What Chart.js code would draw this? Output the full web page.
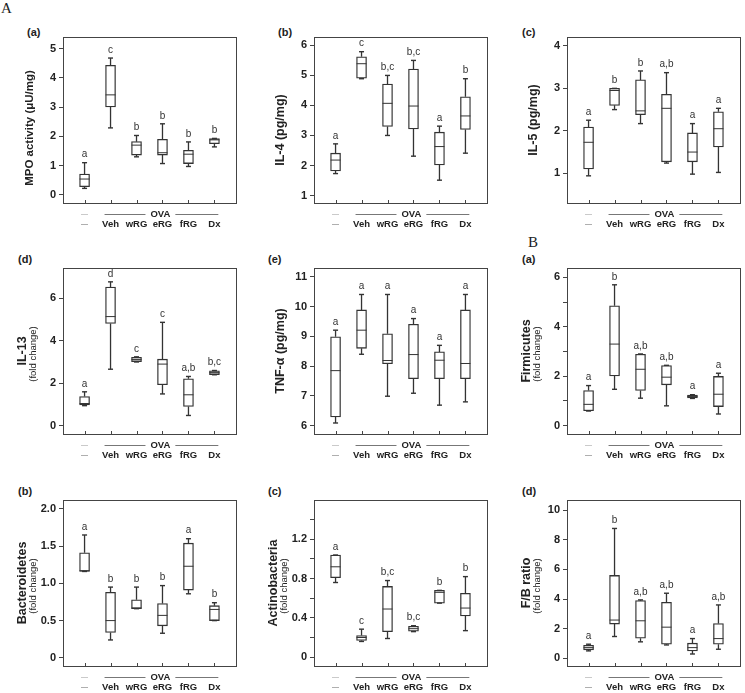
<!DOCTYPE html>
<html>
<head>
<meta charset="utf-8">
<script src="https://cdn.jsdelivr.net/npm/chart.js@4"></script>
<style>
  body { margin: 0; width: 745px; height: 693px; overflow: hidden; background: #fff; position: relative;
         font-family: "Liberation Sans", Arial, sans-serif; }
  canvas { position: absolute; }
  .tag { position: absolute; font-weight: bold; font-size: 11px; color: #222; }
  .sec { position: absolute; font-family: "Liberation Serif", "DejaVu Serif", serif; font-size: 15px; color: #222; }
</style>
</head>
<body>
<div class="sec" style="left:1px;top:0px">A</div>
<div class="sec" style="left:528px;top:234px">B</div>
<div class="tag" style="left:27px;top:26px">(a)</div>
<div class="tag" style="left:278px;top:26px">(b)</div>
<div class="tag" style="left:522px;top:26px">(c)</div>
<div class="tag" style="left:18px;top:253px">(d)</div>
<div class="tag" style="left:268px;top:253px">(e)</div>
<div class="tag" style="left:522px;top:253px">(a)</div>
<div class="tag" style="left:18px;top:485px">(b)</div>
<div class="tag" style="left:268px;top:485px">(c)</div>
<div class="tag" style="left:522px;top:485px">(d)</div>

<canvas id="c0"></canvas><canvas id="c1"></canvas><canvas id="c2"></canvas>
<canvas id="c3"></canvas><canvas id="c4"></canvas><canvas id="c5"></canvas>
<canvas id="c6"></canvas><canvas id="c7"></canvas><canvas id="c8"></canvas>

<script>
// groups on the x axis
const groups = ['—', 'Veh', 'wRG', 'eRG', 'fRG', 'Dx'];
const ovaLabel = 'OVA';

// A (a) MPO activity
const mpoMin = [0.22, 2.29, 1.30, 1.07, 0.97, 1.64];
const mpoQ1  = [0.28, 3.01, 1.36, 1.36, 1.07, 1.75];
const mpoMed = [0.54, 3.42, 1.70, 1.44, 1.39, 1.88];
const mpoQ3  = [0.71, 4.43, 1.82, 1.90, 1.52, 1.92];
const mpoMax = [1.10, 4.68, 2.03, 2.43, 1.81, 1.93];
const mpoSig = ['a', 'c', 'b', 'b', 'b', 'b'];

// A (b) IL-4
const il4Min = [1.73, 4.89, 3.00, 2.31, 1.51, 2.41];
const il4Q1  = [1.82, 4.91, 3.30, 3.22, 2.02, 3.20];
const il4Med = [2.18, 5.39, 4.07, 3.98, 2.63, 3.65];
const il4Q3  = [2.41, 5.62, 4.71, 5.21, 3.11, 4.29];
const il4Max = [2.72, 5.79, 5.00, 5.50, 3.31, 4.89];
const il4Sig = ['a', 'c', 'b,c', 'b,c', 'a', 'b'];

// A (c) IL-5
const il5Min = [0.94, 2.50, 2.17, 1.24, 0.98, 1.02];
const il5Q1  = [1.10, 2.60, 2.38, 1.27, 1.27, 1.62];
const il5Med = [1.73, 2.95, 2.47, 2.53, 1.50, 2.05];
const il5Q3  = [2.09, 3.00, 3.20, 2.86, 1.95, 2.45];
const il5Max = [2.25, 3.00, 3.41, 3.37, 2.17, 2.53];
const il5Sig = ['a', 'b', 'b', 'a,b', 'a', 'a'];

// A (d) IL-13
const il13Min = [0.95, 2.66, 3.00, 1.50, 0.49, 2.40];
const il13Q1  = [0.98, 4.81, 3.02, 1.93, 0.91, 2.41];
const il13Med = [1.05, 5.13, 3.12, 2.90, 1.46, 2.50];
const il13Q3  = [1.38, 6.52, 3.22, 3.13, 2.21, 2.59];
const il13Max = [1.60, 6.76, 3.24, 4.86, 2.32, 2.60];
const il13Sig = ['a', 'd', 'c', 'c', 'a,b', 'b,c'];

// A (e) TNF-α
const tnfMin = [6.09, 8.40, 6.99, 7.09, 6.69, 6.80];
const tnfQ1  = [6.29, 8.60, 8.08, 7.58, 7.58, 7.58];
const tnfMed = [7.85, 9.21, 8.19, 8.39, 8.20, 8.09];
const tnfQ3  = [8.99, 9.89, 9.09, 9.41, 8.48, 9.89];
const tnfMax = [9.21, 10.41, 10.41, 9.60, 8.70, 10.41];
const tnfSig = ['a', 'a', 'a', 'a', 'a', 'a'];

// B (a) Firmicutes
const firMin = [0.59, 1.47, 1.11, 0.80, 1.10, 0.47];
const firQ1  = [0.60, 2.01, 1.42, 1.65, 1.12, 0.77];
const firMed = [0.86, 3.30, 2.28, 1.96, 1.18, 1.27];
const firQ3  = [1.42, 4.85, 2.89, 2.43, 1.24, 1.99];
const firMax = [1.62, 5.70, 2.90, 2.44, 1.25, 2.12];
const firSig = ['a', 'b', 'a,b', 'a,b', 'a', 'a'];

// B (b) Bacteroidetes
const bacMin = [1.16, 0.24, 0.66, 0.33, 0.86, 0.50];
const bacQ1  = [1.16, 0.34, 0.66, 0.43, 0.91, 0.50];
const bacMed = [1.17, 0.50, 0.67, 0.57, 1.23, 0.65];
const bacQ3  = [1.41, 0.88, 0.78, 0.73, 1.54, 0.70];
const bacMax = [1.65, 0.95, 0.95, 0.97, 1.60, 0.74];
const bacSig = ['a', 'b', 'b', 'b', 'a', 'b'];

// B (c) Actinobacteria
const actMin = [0.76, 0.16, 0.19, 0.26, 0.55, 0.27];
const actQ1  = [0.81, 0.17, 0.26, 0.265, 0.55, 0.42];
const actMed = [0.92, 0.20, 0.49, 0.29, 0.66, 0.50];
const actQ3  = [1.04, 0.22, 0.72, 0.315, 0.68, 0.65];
const actMax = [1.04, 0.285, 0.78, 0.32, 0.68, 0.82];
const actSig = ['a', 'c', 'b,c', 'b,c', 'b', 'b'];

// B (d) F/B ratio
const fbMin = [0.50, 1.47, 1.11, 0.90, 0.29, 0.61];
const fbQ1  = [0.57, 2.31, 1.36, 0.95, 0.50, 0.95];
const fbMed = [0.72, 2.58, 2.53, 2.10, 0.72, 1.33];
const fbQ3  = [0.88, 5.59, 3.89, 3.78, 1.02, 2.35];
const fbMax = [0.95, 8.76, 3.94, 4.39, 1.33, 3.60];
const fbSig = ['a', 'b', 'a,b', 'a,b', 'a', 'a,b'];

// y tick values and their labels
const mpoTicks = [0, 1, 2, 3, 4, 5];          const mpoTickLbl = ['0', '1', '2', '3', '4', '5'];
const il4Ticks = [1, 2, 3, 4, 5, 6];          const il4TickLbl = ['1', '2', '3', '4', '5', '6'];
const il5Ticks = [1, 2, 3, 4];                const il5TickLbl = ['1', '2', '3', '4'];
const il13Ticks = [0, 2, 4, 6];               const il13TickLbl = ['0', '2', '4', '6'];
const tnfTicks = [6, 7, 8, 9, 10, 11];        const tnfTickLbl = ['6', '7', '8', '9', '10', '11'];
const firTicks = [0, 1, 2, 3, 4, 5, 6];       const firTickLbl = ['0', '', '2', '', '4', '', '6'];
const bacTicks = [0, 0.5, 1, 1.5, 2];         const bacTickLbl = ['0', '0.5', '1.0', '1.5', '2.0'];
const actTicks = [0, 0.2, 0.4, 0.6, 0.8, 1.0, 1.2, 1.4];
const actTickLbl = ['0', '', '0.4', '', '0.8', '', '1.2', ''];
const fbTicks = [0, 2, 4, 6, 8, 10];          const fbTickLbl = ['0', '2', '4', '6', '8', '10'];

// y axis titles
const mpoTitle = ['MPO activity (μU/mg)'];
const il4Title = ['IL-4 (pg/mg)'];
const il5Title = ['IL-5 (pg/mg)'];
const il13Title = ['IL-13', '(fold change)'];
const tnfTitle = ['TNF-α (pg/mg)'];
const firTitle = ['Firmicutes', '(fold change)'];
const bacTitle = ['Bacteroidetes', '(fold change)'];
const actTitle = ['Actinobacteria', '(fold change)'];
const fbTitle = ['F/B ratio', '(fold change)'];

// layout of the grid (plot box positions)
const colLeft = [63, 314, 567];
const rowTop = [37, 268, 500];
const boxW = 177, boxH = 166;
const axisW = 62, padTop = 10, axisH = 34;

Chart.defaults.font.family = '"Liberation Sans", Arial, sans-serif';

const ink = '#333';

// frame, inner x ticks, letters, group labels and y titles
const decor = {
  id: 'decor',
  afterDraw(chart, args, o) {
    const ctx = chart.ctx;
    const a = chart.chartArea;
    const xs = chart.scales.x, ys = chart.scales.y;
    ctx.save();
    ctx.strokeStyle = '#444';
    ctx.lineWidth = 1;
    ctx.strokeRect(Math.round(a.left) + 0.5, Math.round(a.top) + 0.5,
                   Math.round(a.right - a.left), Math.round(a.bottom - a.top));
    // x ticks pointing in
    groups.forEach((g, i) => {
      const x = Math.round(xs.getPixelForValue(i)) + 0.5;
      ctx.beginPath();
      ctx.moveTo(x, a.bottom);
      ctx.lineTo(x, a.bottom - 3);
      ctx.stroke();
    });
    // significance letters
    ctx.fillStyle = ink;
    ctx.font = '10px "Liberation Sans", Arial, sans-serif';
    ctx.textAlign = 'center';
    ctx.textBaseline = 'bottom';
    o.sig.forEach((s, i) => {
      ctx.fillText(s, xs.getPixelForValue(i), ys.getPixelForValue(o.top[i]) - 3);
    });
    // group labels
    const y1 = a.bottom + 11, y2 = a.bottom + 21.5;
    ctx.textBaseline = 'middle';
    ctx.font = '7px "Liberation Sans", Arial, sans-serif';
    ctx.fillStyle = '#999';
    ctx.fillText('—', xs.getPixelForValue(0), y1);
    ctx.fillStyle = '#666';
    ctx.fillText('—', xs.getPixelForValue(0), y2);
    ctx.fillStyle = '#222';
    ctx.font = 'bold 9.5px "Liberation Sans", Arial, sans-serif';
    groups.slice(1).forEach((g, i) => ctx.fillText(g, xs.getPixelForValue(i + 1), y2));
    const ox = xs.getPixelForValue(2.92);
    ctx.fillText(ovaLabel, ox, y1);
    const half = ctx.measureText(ovaLabel).width / 2 + 5;
    ctx.strokeStyle = '#777';
    ctx.beginPath();
    ctx.moveTo(xs.getPixelForValue(0.77), Math.round(y1) + 0.5);
    ctx.lineTo(ox - half, Math.round(y1) + 0.5);
    ctx.moveTo(ox + half, Math.round(y1) + 0.5);
    ctx.lineTo(xs.getPixelForValue(5.15), Math.round(y1) + 0.5);
    ctx.stroke();
    // y title
    const cy = (a.top + a.bottom) / 2 + (o.shift || 0);
    ctx.fillStyle = '#222';
    ctx.textBaseline = 'middle';
    if (o.title.length === 1) {
      ctx.save();
      ctx.translate(a.left - 33, cy);
      ctx.rotate(-Math.PI / 2);
      ctx.font = 'bold ' + (o.size || 12.5) + 'px "Liberation Sans", Arial, sans-serif';
      ctx.fillText(o.title[0], 0, 0);
      ctx.restore();
    } else {
      ctx.save();
      ctx.translate(a.left - 40, cy);
      ctx.rotate(-Math.PI / 2);
      ctx.font = 'bold 12.5px "Liberation Sans", Arial, sans-serif';
      ctx.fillText(o.title[0], 0, 0);
      ctx.restore();
      ctx.save();
      ctx.translate(a.left - 29.5, cy + 3);
      ctx.rotate(-Math.PI / 2);
      ctx.font = '9.5px "Liberation Sans", Arial, sans-serif';
      ctx.fillText(o.title[1], 0, 0);
      ctx.restore();
    }
    ctx.restore();
  }
};

function boxPanel(id, col, row, mn, q1, md, q3, mx, sig, yMin, yMax, tickVals, tickLbls, title, extra) {
  const cv = document.getElementById(id);
  cv.width = axisW + boxW + 2;
  cv.height = padTop + boxH + axisH;
  cv.style.left = (colLeft[col] - axisW) + 'px';
  cv.style.top = (rowTop[row] - padTop) + 'px';

  const whisk = [];
  const caps = [];
  groups.forEach((g, i) => {
    whisk.push({x: i, y: mn[i]}, {x: i, y: q1[i]}, {x: i, y: null},
               {x: i, y: q3[i]}, {x: i, y: mx[i]}, {x: i, y: null});
    caps.push({x: i, y: mn[i]}, {x: i, y: mx[i]});
  });

  new Chart(cv, {
    type: 'bar',
    data: {
      datasets: [
        { type: 'scatter', data: md.map((v, i) => ({x: i, y: v})), pointStyle: 'line',
          pointRadius: 5, borderColor: ink, borderWidth: 1, order: 0 },
        { type: 'scatter', data: caps, pointStyle: 'line', pointRadius: 2.5,
          borderColor: ink, borderWidth: 1.4, order: 1 },
        { data: q1.map((v, i) => ({x: i, y: [v, q3[i]]})), backgroundColor: '#fff',
          borderColor: ink, borderWidth: 1.3, borderSkipped: false, barThickness: 10, order: 2 },
        { type: 'line', data: whisk, borderColor: ink, borderWidth: 1.3, pointRadius: 0,
          spanGaps: false, order: 3 }
      ]
    },
    options: {
      responsive: false,
      animation: false,
      events: [],
      layout: { padding: { top: padTop, right: 2, left: 0, bottom: 0 } },
      plugins: {
        legend: { display: false },
        tooltip: { enabled: false },
        decor: Object.assign({ sig: sig, top: mx, title: title }, extra || {})
      },
      scales: {
        x: {
          type: 'linear', min: -0.83, max: 5.83, offset: false,
          grid: { display: false, offset: false }, border: { display: false },
          ticks: { display: false },
          afterFit: s => { s.height = axisH; }
        },
        y: {
          min: yMin, max: yMax,
          afterBuildTicks: s => { s.ticks = tickVals.map(v => ({ value: v })); },
          ticks: {
            callback: (v, i) => tickLbls[i],
            font: { size: 11, weight: 'bold' }, color: '#222', padding: 3
          },
          grid: { drawOnChartArea: false, tickLength: 4, color: '#444' },
          border: { display: true, color: '#444' },
          afterFit: s => { s.width = axisW; }
        }
      }
    },
    plugins: [decor]
  });
}

boxPanel('c0', 0, 0, mpoMin, mpoQ1, mpoMed, mpoQ3, mpoMax, mpoSig, -0.28, 5.4, mpoTicks, mpoTickLbl, mpoTitle, { shift: 8, size: 11.5 });
boxPanel('c1', 1, 0, il4Min, il4Q1, il4Med, il4Q3, il4Max, il4Sig, 0.75, 6.28, il4Ticks, il4TickLbl, il4Title, { shift: 10 });
boxPanel('c2', 2, 0, il5Min, il5Q1, il5Med, il5Q3, il5Max, il5Sig, 0.3, 4.21, il5Ticks, il5TickLbl, il5Title);
boxPanel('c3', 0, 1, il13Min, il13Q1, il13Med, il13Q3, il13Max, il13Sig, -0.38, 7.41, il13Ticks, il13TickLbl, il13Title);
boxPanel('c4', 1, 1, tnfMin, tnfQ1, tnfMed, tnfQ3, tnfMax, tnfSig, 5.72, 11.3, tnfTicks, tnfTickLbl, tnfTitle);
boxPanel('c5', 2, 1, firMin, firQ1, firMed, firQ3, firMax, firSig, -0.34, 6.38, firTicks, firTickLbl, firTitle);
boxPanel('c6', 0, 2, bacMin, bacQ1, bacMed, bacQ3, bacMax, bacSig, -0.11, 2.12, bacTicks, bacTickLbl, bacTitle);
boxPanel('c7', 1, 2, actMin, actQ1, actMed, actQ3, actMax, actSig, -0.09, 1.6, actTicks, actTickLbl, actTitle);
boxPanel('c8', 2, 2, fbMin, fbQ1, fbMed, fbQ3, fbMax, fbSig, -0.52, 10.68, fbTicks, fbTickLbl, fbTitle);
</script>
</body>
</html>
